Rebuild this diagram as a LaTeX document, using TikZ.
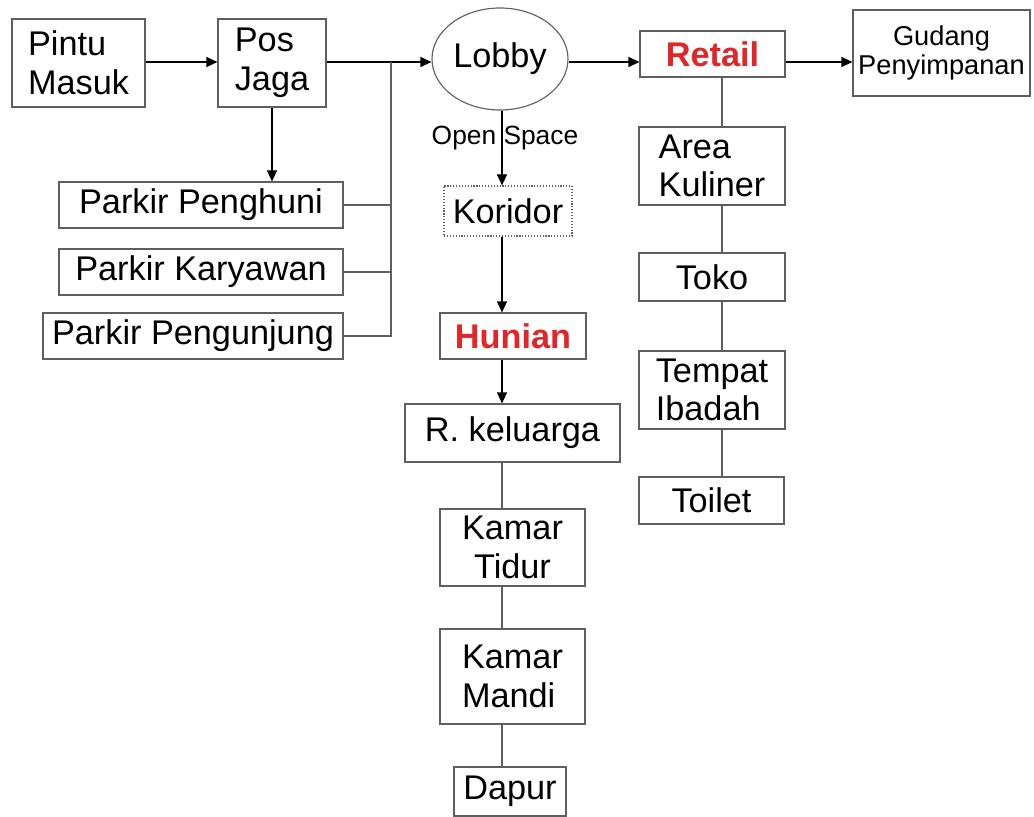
\documentclass[tikz,border=0pt]{standalone}
\usepackage{fontspec}
\setmainfont{Liberation Sans}
\usetikzlibrary{arrows.meta,shapes.geometric}

\definecolor{boxline}{RGB}{95,95,95}
\definecolor{hotred}{RGB}{226,38,40}

\begin{document}
\begin{tikzpicture}[x=0.02cm,y=-0.02cm,
    wh/.style 2 args={minimum width=#1*0.02cm,minimum height=#2*0.02cm},
    arr/.style={draw=black,line width=0.65pt,-{Triangle[length=0.22cm,width=0.2cm]}},
    link/.style={draw=boxline,line width=0.65pt}]
\useasboundingbox (0,0) rectangle (1034,817);
\coordinate (row) at (0,62);
\coordinate (bus) at (391,62);
\coordinate (hx) at (502,0);
\coordinate (rx) at (722,0);
\begin{scope}[every node/.style={draw=boxline,line width=0.65pt,inner sep=0pt,
              font=\fontsize{19.5}{22}\selectfont}]
    \node[wh={133}{88},align=left] (pintu) at (78.5,63) {Pintu\\Masuk};
    \node[wh={108}{88},align=left] (pos) at (272,63) {Pos\\Jaga};
    \node[ellipse,wh={136}{102}] (lobby) at (500,59) {Lobby};
    \node[wh={145}{46},text=hotred,font=\fontsize{19.5}{22}\selectfont\bfseries] (retail) at (712.5,54) {Retail};
    \node[wh={177}{86},align=center,font=\fontsize{15.5}{16.5}\selectfont] (gudang) at (941.5,53) {Gudang\\Penyimpanan};
    \node[wh={284}{46}] (penghuni) at (201,205) {Parkir Penghuni};
    \node[wh={284}{46}] (karyawan) at (201,272) {Parkir Karyawan};
    \node[wh={300}{46}] (pengunjung) at (193,336) {Parkir Pengunjung};
    \node[wh={128}{50},densely dotted] (koridor) at (508,211) {Koridor};
    \node[wh={146}{46},text=hotred,font=\fontsize{19.5}{22}\selectfont\bfseries] (hunian) at (513,336) {Hunian};
    \node[wh={215}{58}] (keluarga) at (512.5,433) {R. keluarga};
    \node[wh={145}{77},align=center] (tidur) at (512.5,547.5) {Kamar\\Tidur};
    \node[wh={145}{95},align=left] (mandi) at (512.5,676.5) {Kamar\\Mandi};
    \node[wh={112}{49}] (dapur) at (510,791.5) {Dapur};
    \node[wh={146}{78},align=left] (kuliner) at (712,166) {Area\\Kuliner};
    \node[wh={146}{48}] (toko) at (712,277) {Toko};
    \node[wh={146}{78},align=left] (ibadah) at (712,390) {Tempat\\Ibadah};
    \node[wh={145}{47}] (toilet) at (711.5,500.5) {Toilet};
\end{scope}
\node[font=\fontsize{15}{18}\selectfont] (open) at (505,138) {Open Space};
% top row
\draw[arr] (pintu.east |- row) -- (pos.west |- row);
\draw[arr] (pos.east |- row) -- (lobby.west |- row);
\draw[arr] (lobby.east |- row) -- (retail.west |- row);
\draw[arr] (retail.east |- row) -- (gudang.west |- row);
% parking
\draw[arr] (pos.south) -- (pos.south |- penghuni.north);
\draw[link] (pengunjung.east) -| (bus);
\draw[link] (penghuni.east) -- (penghuni.east -| bus);
\draw[link] (karyawan.east) -- (karyawan.east -| bus);
% hunian column
\draw[arr] (lobby.south -| hx) -- (koridor.north -| hx);
\draw[arr] (koridor.south -| hx) -- (hunian.north -| hx);
\draw[arr] (hunian.south -| hx) -- (keluarga.north -| hx);
\draw[link] (keluarga.south -| hx) -- (tidur.north -| hx);
\draw[link] (tidur.south -| hx) -- (mandi.north -| hx);
\draw[link] (mandi.south -| hx) -- (dapur.north -| hx);
% retail column
\draw[link] (retail.south -| rx) -- (kuliner.north -| rx);
\draw[link] (kuliner.south -| rx) -- (toko.north -| rx);
\draw[link] (toko.south -| rx) -- (ibadah.north -| rx);
\draw[link] (ibadah.south -| rx) -- (toilet.north -| rx);
\end{tikzpicture}
\end{document}
